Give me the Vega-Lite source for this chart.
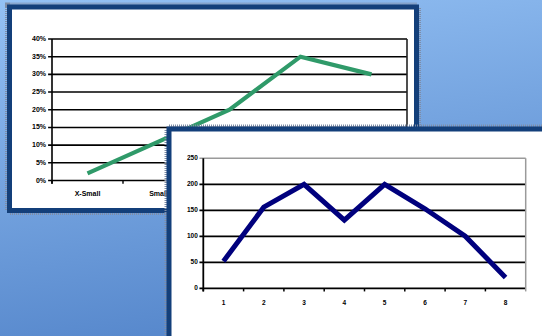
{
  "$schema": "https://vega.github.io/schema/vega-lite/v6.json",
  "width": 542,
  "height": 336,
  "padding": 0,
  "autosize": "none",
  "config": {
    "view": {"stroke": null},
    "text": {"font": "Liberation Sans", "fontWeight": "bold", "color": "#000000"}
  },
  "layer": [
    {
      "data": {"values": [{}]},
      "mark": {
        "type": "rect",
        "fill": {
          "gradient": "linear",
          "x1": 0, "y1": 0, "x2": 0.25, "y2": 1,
          "stops": [
            {"offset": 0, "color": "#94c1f4"},
            {"offset": 1, "color": "#5889cd"}
          ]
        }
      },
      "encoding": {}
    },
    {
      "layer": [
        {
          "data": {"values": [{"win": "w1"}]},
          "encoding": {
            "x": {"field": "win", "type": "nominal", "axis": null,
                  "scale": {"type": "band", "range": [9.5, 416.5], "paddingInner": 0, "paddingOuter": 0}},
            "y": {"field": "win", "type": "nominal", "axis": null,
                  "scale": {"type": "band", "range": [7, 210.5], "paddingInner": 0, "paddingOuter": 0}}
          },
          "layer": [
            {"mark": {"type": "rect", "fillOpacity": 0, "stroke": "#7f8da6", "strokeWidth": 9, "strokeDash": [1, 1]}},
            {"mark": {"type": "rect", "fill": "white", "stroke": "#133f7a", "strokeWidth": 5}}
          ]
        },
        {
          "layer": [
            {
              "layer": [
                {
                  "data": {"values": [{"v": 0}, {"v": 0.05}, {"v": 0.1}, {"v": 0.15}, {"v": 0.2}, {"v": 0.25}, {"v": 0.3}, {"v": 0.35}, {"v": 0.4}]},
                  "layer": [
                    {
                      "mark": {"type": "rule", "color": "#000000", "strokeWidth": 1.6},
                      "encoding": {
                        "x": {"datum": -0.011, "type": "quantitative", "axis": null,
                              "scale": {"domain": [0, 1], "range": [52, 407], "nice": false, "zero": false}},
                        "x2": {"datum": 1},
                        "y": {"field": "v", "type": "quantitative", "axis": null,
                              "scale": {"domain": [0, 0.4], "range": [180.5, 39], "nice": false, "zero": false}}
                      }
                    },
                    {
                      "mark": {"type": "text", "align": "right", "baseline": "middle", "dx": -6, "fontSize": 7},
                      "encoding": {
                        "x": {"datum": 0, "type": "quantitative"},
                        "y": {"field": "v", "type": "quantitative"},
                        "text": {"field": "v", "type": "quantitative", "format": ".0%"}
                      }
                    }
                  ]
                },
                {
                  "data": {"values": [{}]},
                  "layer": [
                    {
                      "mark": {"type": "rule", "color": "#000000", "strokeWidth": 1.6},
                      "encoding": {
                        "x": {"datum": 0, "type": "quantitative"},
                        "y": {"datum": -0.009, "type": "quantitative"},
                        "y2": {"datum": 0.4}
                      }
                    },
                    {
                      "mark": {"type": "rule", "color": "#222222", "strokeWidth": 1.6},
                      "encoding": {
                        "x": {"datum": 1, "type": "quantitative"},
                        "y": {"datum": -0.009, "type": "quantitative"},
                        "y2": {"datum": 0.4}
                      }
                    }
                  ]
                }
              ]
            },
            {
              "data": {"values": [
                {"size": "X-Small", "share": 0.02},
                {"size": "Small", "share": 0.11},
                {"size": "Medium", "share": 0.20},
                {"size": "Large", "share": 0.35},
                {"size": "X-Large", "share": 0.30}
              ]},
              "layer": [
                {
                  "mark": {"type": "rule", "color": "#000000", "strokeWidth": 1.4},
                  "encoding": {
                    "x": {"field": "size", "type": "nominal", "bandPosition": 0, "sort": null, "axis": null,
                          "scale": {"type": "band", "range": [52, 407], "paddingInner": 0, "paddingOuter": 0}},
                    "y": {"datum": 0, "type": "quantitative"},
                    "y2": {"datum": -0.009}
                  }
                },
                {
                  "mark": {"type": "text", "baseline": "middle", "dy": 13, "fontSize": 7},
                  "encoding": {
                    "x": {"field": "size", "type": "nominal", "sort": null},
                    "y": {"datum": 0, "type": "quantitative"},
                    "text": {"field": "size"}
                  }
                },
                {
                  "mark": {"type": "line", "color": "#2f9a69", "strokeWidth": 4.2},
                  "encoding": {
                    "x": {"field": "size", "type": "nominal", "sort": null},
                    "y": {"field": "share", "type": "quantitative"}
                  }
                }
              ]
            }
          ],
          "resolve": {"scale": {"x": "independent"}}
        }
      ],
      "resolve": {"scale": {"x": "independent", "y": "independent"}}
    },
    {
      "layer": [
        {
          "data": {"values": [{"win": "w2"}]},
          "encoding": {
            "x": {"field": "win", "type": "nominal", "axis": null,
                  "scale": {"type": "band", "range": [169, 570], "paddingInner": 0, "paddingOuter": 0}},
            "y": {"field": "win", "type": "nominal", "axis": null,
                  "scale": {"type": "band", "range": [129, 370], "paddingInner": 0, "paddingOuter": 0}}
          },
          "layer": [
            {"mark": {"type": "rect", "fillOpacity": 0, "stroke": "#7f8da6", "strokeWidth": 9, "strokeDash": [1, 1]}},
            {"mark": {"type": "rect", "fill": "white", "stroke": "#133f7a", "strokeWidth": 5}}
          ]
        },
        {
          "layer": [
            {
              "layer": [
                {
                  "data": {"values": [{"v": 0}, {"v": 50}, {"v": 100}, {"v": 150}, {"v": 200}]},
                  "mark": {"type": "rule", "color": "#000000", "strokeWidth": 1.8},
                  "encoding": {
                    "x": {"datum": -0.012, "type": "quantitative", "axis": null,
                          "scale": {"domain": [0, 1], "range": [203.3, 525.7], "nice": false, "zero": false}},
                    "x2": {"datum": 1},
                    "y": {"field": "v", "type": "quantitative", "axis": null,
                          "scale": {"domain": [0, 250], "range": [288.3, 158.3], "nice": false, "zero": false}}
                  }
                },
                {
                  "data": {"values": [{"v": 0}, {"v": 50}, {"v": 100}, {"v": 150}, {"v": 200}, {"v": 250}]},
                  "mark": {"type": "text", "align": "right", "baseline": "middle", "dx": -5.5, "fontSize": 6.5},
                  "encoding": {
                    "x": {"datum": 0, "type": "quantitative"},
                    "y": {"field": "v", "type": "quantitative"},
                    "text": {"field": "v", "type": "quantitative"}
                  }
                },
                {
                  "data": {"values": [{}]},
                  "layer": [
                    {
                      "mark": {"type": "rule", "color": "#9a9a9a", "strokeWidth": 1.5},
                      "encoding": {
                        "x": {"datum": -0.012, "type": "quantitative"},
                        "x2": {"datum": 1},
                        "y": {"datum": 250, "type": "quantitative"}
                      }
                    },
                    {
                      "mark": {"type": "rule", "color": "#9a9a9a", "strokeWidth": 1.5},
                      "encoding": {
                        "x": {"datum": 1, "type": "quantitative"},
                        "y": {"datum": -6, "type": "quantitative"},
                        "y2": {"datum": 250}
                      }
                    },
                    {
                      "mark": {"type": "rule", "color": "#000000", "strokeWidth": 1.8},
                      "encoding": {
                        "x": {"datum": 0, "type": "quantitative"},
                        "y": {"datum": -6, "type": "quantitative"},
                        "y2": {"datum": 250}
                      }
                    }
                  ]
                }
              ]
            },
            {
              "data": {"values": [
                {"period": "1", "value": 52},
                {"period": "2", "value": 156},
                {"period": "3", "value": 200},
                {"period": "4", "value": 131},
                {"period": "5", "value": 200},
                {"period": "6", "value": 153},
                {"period": "7", "value": 100},
                {"period": "8", "value": 21}
              ]},
              "layer": [
                {
                  "mark": {"type": "rule", "color": "#000000", "strokeWidth": 1.5},
                  "encoding": {
                    "x": {"field": "period", "type": "nominal", "bandPosition": 0, "sort": null, "axis": null,
                          "scale": {"type": "band", "range": [203.3, 525.7], "paddingInner": 0, "paddingOuter": 0}},
                    "y": {"datum": 0, "type": "quantitative"},
                    "y2": {"datum": -6}
                  }
                },
                {
                  "mark": {"type": "text", "baseline": "middle", "dy": 15, "fontSize": 6.5},
                  "encoding": {
                    "x": {"field": "period", "type": "nominal", "sort": null},
                    "y": {"datum": 0, "type": "quantitative"},
                    "text": {"field": "period"}
                  }
                },
                {
                  "mark": {"type": "line", "color": "#00007d", "strokeWidth": 5, "strokeJoin": "miter"},
                  "encoding": {
                    "x": {"field": "period", "type": "nominal", "sort": null},
                    "y": {"field": "value", "type": "quantitative"}
                  }
                }
              ]
            }
          ],
          "resolve": {"scale": {"x": "independent"}}
        }
      ],
      "resolve": {"scale": {"x": "independent", "y": "independent"}}
    }
  ],
  "resolve": {"scale": {"x": "independent", "y": "independent"}}
}
